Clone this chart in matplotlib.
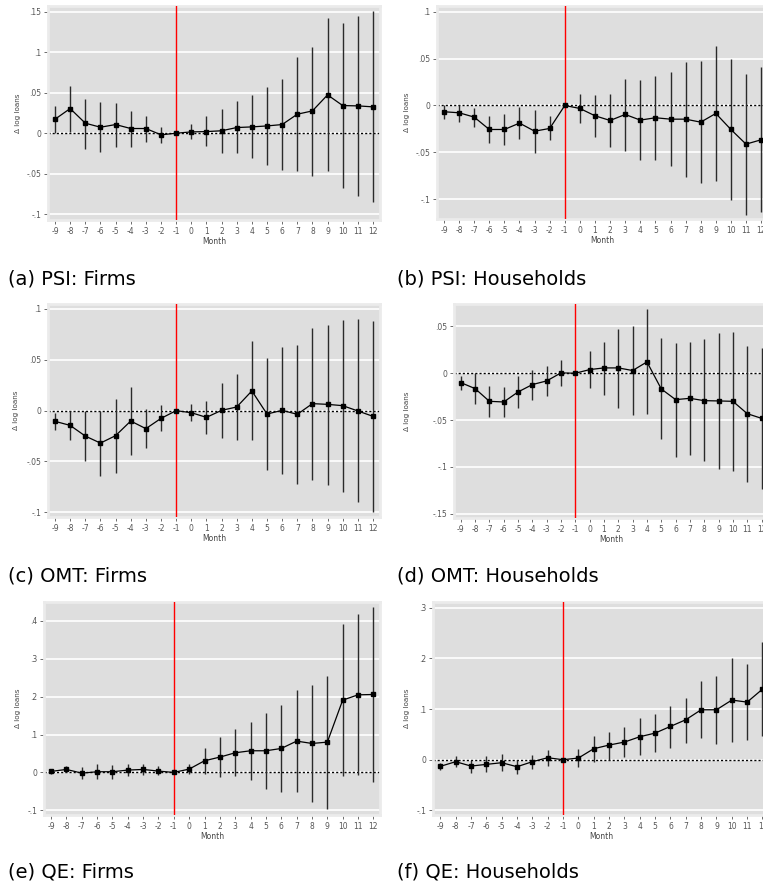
import matplotlib
matplotlib.use("Agg")
import matplotlib.pyplot as plt
import numpy as np

months = list(range(-9, 13))

# (a) PSI: Firms
psi_f = [0.0173, 0.0305, 0.0124, 0.0074, 0.0107, 0.0058, 0.0058, -0.002, 0.0, 0.0016, 0.002,
         0.003, 0.007, 0.0078, 0.009, 0.0107, 0.0235, 0.0276, 0.0474, 0.0342, 0.0338, 0.0326]
psi_f_lo = [0.0, 0.002, -0.019, -0.023, -0.0165, -0.0165, -0.0107, -0.0124, 0.0, -0.007, -0.016,
            -0.024, -0.025, -0.0313, -0.0388, -0.0453, -0.0466, -0.0528, -0.0466, -0.0684, -0.0771, -0.0857]
psi_f_hi = [0.0338, 0.0585, 0.0429, 0.0383, 0.0375, 0.0276, 0.0214, 0.0078, 0.0, 0.011, 0.021,
            0.0297, 0.0396, 0.0474, 0.0569, 0.0672, 0.094, 0.107, 0.142, 0.1364, 0.145, 0.151]

# (b) PSI: Households
psi_h = [-0.0067, -0.0078, -0.0124, -0.0256, -0.0256, -0.0188, -0.0274, -0.0245, 0.0, -0.0032, -0.011,
         -0.016, -0.0096, -0.0156, -0.0131, -0.0146, -0.0146, -0.0178, -0.0085, -0.0256, -0.0412, -0.0366]
psi_h_lo = [-0.0142, -0.0174, -0.0231, -0.0405, -0.0419, -0.0359, -0.0504, -0.0373, 0.0, -0.0185, -0.0334,
            -0.0448, -0.048, -0.0586, -0.0579, -0.0647, -0.0764, -0.0828, -0.0806, -0.1009, -0.1165, -0.1137]
psi_h_hi = [0.0, 0.001, -0.0025, -0.0114, -0.0096, -0.0021, -0.005, -0.0117, 0.0, 0.0117, 0.011,
            0.0124, 0.028, 0.027, 0.0309, 0.0355, 0.0465, 0.0472, 0.0632, 0.049, 0.0338, 0.0412]

# (c) OMT: Firms
omt_f = [-0.0105, -0.0145, -0.025, -0.0319, -0.0246, -0.0102, -0.0177, -0.0076, 0.0, -0.002, -0.0066,
         0.0003, 0.0036, 0.0194, -0.0033, 0.0003, -0.0036, 0.0069, 0.0062, 0.0049, -0.0003, -0.0056]
omt_f_lo = [-0.0187, -0.0292, -0.0499, -0.0644, -0.0611, -0.044, -0.0365, -0.0204, 0.0, -0.0105, -0.0227,
            -0.0266, -0.0292, -0.0292, -0.0585, -0.0621, -0.0722, -0.068, -0.0736, -0.0801, -0.0903, -0.0995]
omt_f_hi = [-0.0023, 0.0, 0.0, 0.0, 0.0115, 0.0233, 0.0013, 0.0056, 0.0, 0.0062, 0.0095,
            0.0269, 0.0365, 0.0683, 0.0516, 0.0624, 0.0647, 0.0815, 0.0847, 0.0893, 0.09, 0.088]

# (d) OMT: Households
omt_h = [-0.01, -0.0164, -0.03, -0.0307, -0.02, -0.0121, -0.0082, 0.0004, 0.0, 0.0039, 0.0057,
         0.0057, 0.0029, 0.0121, -0.0168, -0.0282, -0.0268, -0.0293, -0.0296, -0.03, -0.0432, -0.0482]
omt_h_lo = [-0.0175, -0.0329, -0.0464, -0.0468, -0.0372, -0.0282, -0.0243, -0.0139, 0.0, -0.0157, -0.0229,
            -0.0368, -0.0447, -0.0432, -0.0707, -0.0893, -0.0872, -0.094, -0.1022, -0.1047, -0.1161, -0.124]
omt_h_hi = [-0.0029, 0.0, -0.0139, -0.015, -0.0032, 0.0039, 0.0079, 0.0146, 0.0, 0.0239, 0.0336,
            0.0475, 0.0504, 0.0682, 0.0375, 0.0325, 0.0336, 0.0361, 0.0429, 0.0443, 0.0289, 0.0275]

# (e) QE: Firms
qe_f = [0.0026, 0.0079, -0.0018, 0.0018, 0.0018, 0.0062, 0.0079, 0.0035, 0.0, 0.0088, 0.0308,
        0.0405, 0.0519, 0.0572, 0.0572, 0.0633, 0.0827, 0.0765, 0.08, 0.1909, 0.2049, 0.2058]
qe_f_lo = [-0.003, 0.001, -0.0176, -0.0176, -0.0167, -0.0106, -0.007, -0.0079, 0.0, -0.0053, -0.0035,
           -0.0114, -0.0106, -0.0202, -0.0431, -0.0519, -0.051, -0.0774, -0.0967, -0.0106, -0.0079, -0.0246]
qe_f_hi = [0.008, 0.0158, 0.014, 0.022, 0.0193, 0.0229, 0.0229, 0.0167, 0.0, 0.022, 0.065,
           0.0932, 0.1143, 0.1328, 0.1566, 0.1785, 0.2172, 0.2304, 0.2559, 0.3931, 0.4178, 0.4371]

# (f) QE: Households
qe_h = [-0.0131, -0.0039, -0.0125, -0.0092, -0.0059, -0.0138, -0.0039, 0.0039, 0.0, 0.0033, 0.0217,
        0.0289, 0.0348, 0.0453, 0.0525, 0.0657, 0.0788, 0.0985, 0.0985, 0.1176, 0.1136, 0.1392]
qe_h_lo = [-0.0197, -0.0151, -0.0256, -0.0243, -0.0217, -0.0276, -0.0184, -0.0118, 0.0, -0.0144, -0.0046,
           0.0, 0.0053, 0.0092, 0.0144, 0.0236, 0.0335, 0.0427, 0.0315, 0.0342, 0.0381, 0.046]
qe_h_hi = [-0.0066, 0.0066, 0.0, 0.0066, 0.0112, 0.0, 0.0099, 0.0197, 0.0, 0.021, 0.0466,
           0.0552, 0.065, 0.0814, 0.09, 0.1064, 0.1222, 0.1544, 0.1655, 0.2003, 0.1885, 0.2319]

captions = ["(a) PSI: Firms", "(b) PSI: Households", "(c) OMT: Firms",
            "(d) OMT: Households", "(e) QE: Firms", "(f) QE: Households"]

W, H = 763, 890


def fmt(v):
    if abs(v) < 1e-9:
        return "0"
    s = f"{abs(v):.2f}".rstrip("0").lstrip("0")
    return ("-" if v < 0 else "") + s


def panel(px, ylim, yticks, ylab_x, est, lo, hi):
    # px = (left, right, top, bottom) in pixels
    l, r, t, b = px
    ax = fig.add_axes([l / W, 1 - b / H, (r - l) / W, (b - t) / H])
    ax.set_facecolor("#dedede")
    for s in ax.spines.values():
        s.set_color("#ebebeb")
        s.set_linewidth(2)
    ax.set_xlim(-9.45, 12.45)
    ax.set_ylim(*ylim)
    for yv in yticks:
        ax.axhline(yv, color="white", lw=1.2, zorder=1)
    ax.axhline(0, color="black", lw=1, ls=(0, (1.5, 1.5)), zorder=2)
    ax.axvline(-1, color="red", lw=1.0, zorder=3)
    ax.vlines(months, lo, hi, color="#2a2a2a", lw=1.0, zorder=4)
    ax.plot(months, est, color="black", lw=0.9, marker="s", ms=3, zorder=5)
    ax.set_xticks(months)
    ax.set_xticklabels([str(m) for m in months])
    ax.set_yticks(yticks)
    ax.set_yticklabels([fmt(v) for v in yticks])
    ax.tick_params(axis="both", labelsize=5.5, colors="#555555", length=3, width=0.6, pad=2)
    ax.set_xlabel("Month", fontsize=5.5, color="#444444", labelpad=1)
    ax.set_ylabel("Δ log loans", fontsize=5.2, color="#444444")
    ax.yaxis.set_label_coords((ylab_x - l) / (r - l), 0.5)
    return ax


fig = plt.figure(figsize=(W / 100, H / 100), dpi=100)

panel((48.2, 379.8, 6, 220), (-0.1074, 0.1574), [-0.1, -0.05, 0, 0.05, 0.1, 0.15], 21,
      psi_f, psi_f_lo, psi_f_hi)
panel((437.2, 767.9, 6, 219), (-0.121, 0.106), [-0.1, -0.05, 0, 0.05, 0.1], 410,
      psi_h, psi_h_lo, psi_h_hi)
panel((48.2, 379.8, 304, 517), (-0.1046, 0.1049), [-0.1, -0.05, 0, 0.05, 0.1], 19,
      omt_f, omt_f_lo, omt_f_hi)
panel((454.3, 768.0, 304, 518), (-0.1547, 0.074), [-0.15, -0.1, -0.05, 0, 0.05], 410,
      omt_h, omt_h_lo, omt_h_hi)
panel((44.1, 380.3, 602, 815), (-0.1124, 0.450), [-0.1, 0, 0.1, 0.2, 0.3, 0.4], 21,
      qe_f, qe_f_lo, qe_f_hi)
panel((433.4, 769.4, 602, 815), (-0.109, 0.311), [-0.1, 0, 0.1, 0.2, 0.3], 410,
      qe_h, qe_h_lo, qe_h_hi)

cap_pos = [(8, 279), (397, 279), (8, 576), (397, 576), (8, 872), (397, 872)]
for (cx, cy), txt in zip(cap_pos, captions):
    fig.text(cx / W, 1 - cy / H, txt, fontsize=14, va="center", ha="left")

fig.savefig("out.png", dpi=100)
